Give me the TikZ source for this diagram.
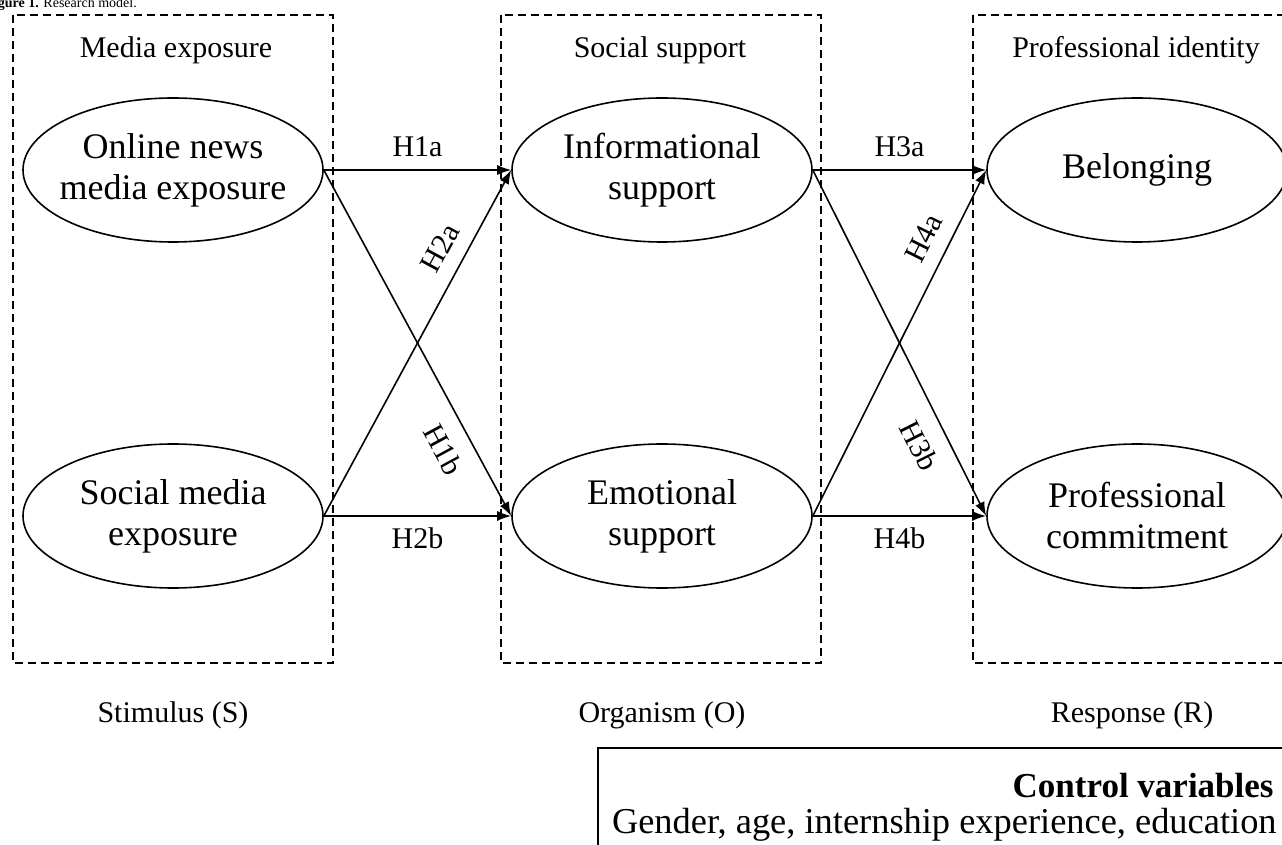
\documentclass[tikz,border=0pt]{standalone}
\usepackage{fontspec}
\setmainfont{Liberation Serif}
\usetikzlibrary{shapes.geometric, arrows.meta}

\tikzset{
  construct/.style = {draw, thick, ellipse, minimum width = 150pt, minimum height = 72pt,
    inner sep = -10pt, align = center, font = \fontsize{18}{20.5}\selectfont},
  stage/.style = {draw, thick, dashed, dash pattern = on 4pt off 2.5pt},
  heading/.style = {font = \fontsize{15}{18}\selectfont},
  path/.style = {-{Latex[length = 7pt, width = 5pt]}, line width = 0.8pt},
  hyp/.style = {font = \fontsize{15}{18}\selectfont}
}

\begin{document}
\begin{tikzpicture}[x = 0.5pt, y = -0.5pt]
\clip (0, 0) rectangle (1282, 845);

% caption, cut by the page edge
\node[anchor = base west, inner sep = 0pt, font = \fontsize{7}{8}\selectfont] (caption) at (-15, 8)
	{\textbf{Figure 1.} Research model.};

% the three stages
\draw[stage] (13, 15) rectangle (333, 663);
\draw[stage] (501, 15) rectangle (821, 663);
\draw[stage] (973, 15) rectangle (1300, 663);

\node[heading] (mediaexp) at (176, 50) {Media exposure};
\node[heading] (socsup) at (660, 50) {Social support};
\node[heading] (profid) at (1136, 50) {Professional identity};

\node[heading] (stim) at (173, 715) {Stimulus (S)};
\node[heading] (org) at (662, 715) {Organism (O)};
\node[heading] (resp) at (1132, 715) {Response (R)};

% constructs
\node[construct] (onews) at (173, 170) {Online news\\media exposure};
\node[construct] (smedia) at (173, 516) {Social media\\exposure};
\node[construct] (info) at (662, 170) {Informational\\support};
\node[construct] (emo) at (662, 516) {Emotional\\support};
\node[construct] (belong) at (1137, 170) {Belonging};
\node[construct] (commit) at (1137, 516) {Professional\\commitment};

% hypotheses
\draw[path] (onews.east) -- node[hyp, above = 3pt] {H1a} (info.west);
\draw[path] (onews.east) -- node[hyp, sloped, below = 5pt, pos = 0.77] {H1b} (emo.west);
\draw[path] (smedia.east) -- node[hyp, sloped, above = 4pt, pos = 0.74] {H2a} (info.west);
\draw[path] (smedia.east) -- node[hyp, below = 2pt] {H2b} (emo.west);
\draw[path] (info.east) -- node[hyp, above = 3pt] {H3a} (belong.west);
\draw[path] (info.east) -- node[hyp, sloped, below = 5pt, pos = 0.76] {H3b} (commit.west);
\draw[path] (emo.east) -- node[hyp, sloped, above = 4pt, pos = 0.77] {H4a} (belong.west);
\draw[path] (emo.east) -- node[hyp, below = 2pt] {H4b} (commit.west);

% control variables, cut by the page edge
\draw[thick] (598, 900) -- (598, 748) -- (1320, 748);
\node[anchor = base east, inner sep = 0pt, font = \fontsize{17.5}{20}\selectfont\bfseries] (ctrl) at (1274, 798)
	{Control variables};
\node[anchor = base east, inner sep = 0pt, font = \fontsize{18.2}{20}\selectfont] (ctrlvars) at (1277, 834)
	{Gender, age, internship experience, education};
\end{tikzpicture}
\end{document}
